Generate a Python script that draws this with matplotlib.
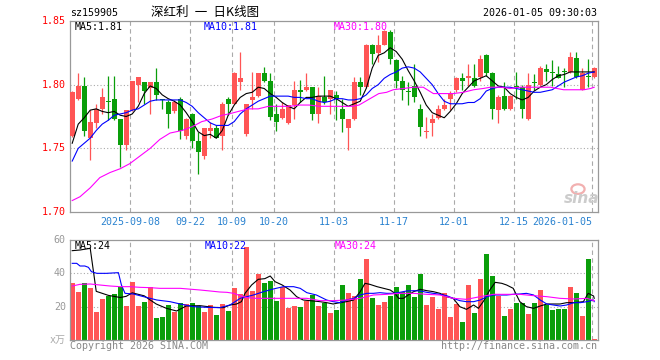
import matplotlib
matplotlib.use("Agg")
import matplotlib.pyplot as plt
from matplotlib.patches import Ellipse
import numpy as np

plt.rcParams['font.family'] = ['DejaVu Sans Mono', 'Noto Sans CJK SC']

# ---- data ----
opens = [1.760, 1.789, 1.799, 1.758, 1.770, 1.781, 1.787, 1.789, 1.773, 1.753,
         1.780, 1.800, 1.802, 1.797, 1.802, 1.789, 1.786, 1.779, 1.789, 1.760,
         1.777, 1.756, 1.744, 1.764, 1.766, 1.760, 1.789, 1.785, 1.802, 1.761,
         1.788, 1.791, 1.809, 1.803, 1.777, 1.774, 1.770, 1.784, 1.796, 1.796,
         1.798, 1.777, 1.790, 1.789, 1.792, 1.781, 1.766, 1.773, 1.802, 1.798,
         1.831, 1.825, 1.831, 1.841, 1.819, 1.803, 1.795, 1.799, 1.781, 1.763,
         1.770, 1.774, 1.781, 1.789, 1.796, 1.805, 1.805, 1.805, 1.806, 1.823,
         1.809, 1.780, 1.791, 1.781, 1.799, 1.798, 1.773, 1.802, 1.800, 1.812,
         1.810, 1.808, 1.811, 1.810, 1.821, 1.796, 1.807, 1.806]
highs = [1.795, 1.809, 1.806, 1.780, 1.785, 1.797, 1.807, 1.807, 1.773, 1.780,
         1.803, 1.806, 1.802, 1.802, 1.813, 1.789, 1.788, 1.788, 1.790, 1.774,
         1.778, 1.763, 1.766, 1.771, 1.768, 1.786, 1.790, 1.810, 1.826, 1.785,
         1.810, 1.809, 1.814, 1.809, 1.785, 1.786, 1.784, 1.803, 1.804, 1.809,
         1.798, 1.798, 1.807, 1.796, 1.795, 1.789, 1.773, 1.806, 1.806, 1.832,
         1.832, 1.839, 1.843, 1.843, 1.820, 1.807, 1.802, 1.816, 1.785, 1.775,
         1.777, 1.784, 1.789, 1.795, 1.806, 1.809, 1.816, 1.816, 1.823, 1.824,
         1.810, 1.792, 1.802, 1.792, 1.810, 1.800, 1.809, 1.808, 1.815, 1.816,
         1.819, 1.815, 1.813, 1.826, 1.826, 1.813, 1.820, 1.814]
lows = [1.759, 1.788, 1.760, 1.741, 1.766, 1.777, 1.772, 1.772, 1.735, 1.749,
        1.779, 1.786, 1.785, 1.777, 1.788, 1.781, 1.766, 1.778, 1.757, 1.757,
        1.750, 1.730, 1.742, 1.758, 1.758, 1.749, 1.776, 1.785, 1.796, 1.760,
        1.781, 1.790, 1.802, 1.772, 1.764, 1.773, 1.769, 1.773, 1.786, 1.795,
        1.772, 1.770, 1.785, 1.777, 1.772, 1.763, 1.749, 1.772, 1.792, 1.797,
        1.816, 1.818, 1.831, 1.816, 1.797, 1.788, 1.784, 1.786, 1.760, 1.758,
        1.760, 1.773, 1.780, 1.780, 1.794, 1.796, 1.799, 1.798, 1.803, 1.807,
        1.773, 1.770, 1.780, 1.780, 1.789, 1.774, 1.772, 1.796, 1.799, 1.803,
        1.799, 1.805, 1.798, 1.809, 1.805, 1.796, 1.798, 1.805]
closes = [1.794, 1.799, 1.764, 1.771, 1.781, 1.790, 1.786, 1.773, 1.753, 1.780,
          1.803, 1.806, 1.795, 1.802, 1.792, 1.788, 1.777, 1.786, 1.764, 1.773,
          1.756, 1.747, 1.766, 1.766, 1.758, 1.785, 1.785, 1.809, 1.805, 1.785,
          1.790, 1.809, 1.803, 1.775, 1.771, 1.781, 1.784, 1.796, 1.794, 1.798,
          1.777, 1.791, 1.786, 1.796, 1.789, 1.773, 1.773, 1.802, 1.798, 1.831,
          1.824, 1.831, 1.842, 1.820, 1.803, 1.796, 1.794, 1.790, 1.767, 1.764,
          1.773, 1.781, 1.784, 1.793, 1.805, 1.803, 1.807, 1.799, 1.820, 1.809,
          1.781, 1.790, 1.781, 1.791, 1.798, 1.781, 1.800, 1.801, 1.813, 1.810,
          1.809, 1.805, 1.810, 1.822, 1.806, 1.809, 1.806, 1.813]
volumes = [34.4, 29.0, 34.4, 31.4, 17.0, 24.6, 26.4, 27.6, 32.0, 20.4,
           35.0, 20.4, 23.0, 31.6, 13.4, 14.0, 21.0, 17.0, 22.0, 21.6,
           22.4, 20.4, 17.0, 21.0, 15.0, 21.6, 17.6, 31.4, 27.4, 56.0,
           29.4, 39.4, 34.0, 35.6, 23.6, 32.0, 19.4, 20.4, 20.0, 23.4,
           27.0, 20.4, 22.0, 16.4, 18.0, 33.0, 28.4, 26.4, 36.6, 48.6,
           25.2, 21.0, 23.0, 26.6, 32.0, 29.0, 33.0, 26.0, 39.6, 21.0,
           26.0, 18.6, 28.0, 14.0, 21.6, 11.0, 33.0, 16.4, 36.6, 51.6,
           38.4, 26.4, 14.4, 18.6, 22.4, 22.4, 15.6, 22.4, 30.0, 21.0,
           18.0, 18.6, 18.6, 32.0, 28.4, 14.4, 48.6, 0.6]

ma5 = [1.754, 1.769, 1.774, 1.780, 1.781, 1.779, 1.778, 1.779, 1.776, 1.775,
       1.777, 1.783, 1.793, 1.799, 1.797, 1.792, 1.789, 1.787, 1.784, 1.778,
       1.771, 1.763, 1.760, 1.761, 1.758, 1.764, 1.776, 1.784, 1.790, 1.793,
       1.794, 1.798, 1.797, 1.793, 1.790, 1.786, 1.783, 1.781, 1.786, 1.790,
       1.790, 1.791, 1.791, 1.791, 1.789, 1.786, 1.783, 1.785, 1.787, 1.797,
       1.813, 1.823, 1.825, 1.829, 1.826, 1.820, 1.811, 1.803, 1.794, 1.784,
       1.778, 1.776, 1.774, 1.779, 1.785, 1.793, 1.798, 1.803, 1.805, 1.807,
       1.803, 1.799, 1.798, 1.793, 1.790, 1.788, 1.790, 1.795, 1.798, 1.800,
       1.804, 1.807, 1.808, 1.810, 1.810, 1.810, 1.810, 1.810]
ma10 = [1.740, 1.750, 1.754, 1.758, 1.764, 1.769, 1.772, 1.776, 1.777, 1.778,
        1.780, 1.781, 1.784, 1.787, 1.788, 1.788, 1.788, 1.788, 1.788, 1.786,
        1.783, 1.778, 1.774, 1.770, 1.768, 1.768, 1.768, 1.771, 1.777, 1.781,
        1.784, 1.787, 1.789, 1.791, 1.791, 1.791, 1.791, 1.790, 1.790, 1.789,
        1.789, 1.787, 1.786, 1.787, 1.789, 1.789, 1.788, 1.788, 1.789, 1.792,
        1.797, 1.800, 1.805, 1.808, 1.810, 1.813, 1.814, 1.813, 1.810, 1.805,
        1.800, 1.793, 1.787, 1.785, 1.785, 1.785, 1.786, 1.786, 1.789, 1.795,
        1.797, 1.798, 1.798, 1.798, 1.797, 1.796, 1.795, 1.794, 1.794, 1.795,
        1.796, 1.799, 1.802, 1.804, 1.806, 1.807, 1.809, 1.810]
ma30_idx = [0, 1.3, 3, 4.6, 6.3, 8, 9.6, 11.3, 13, 14.6, 16.3, 18.3, 20, 21.6,
            23.3, 25, 26.1, 27.7, 29.4, 31, 32.7, 34.6, 36.2, 37.9, 39.5, 41.2,
            42.9, 45.1, 46.7, 47.8, 48.9, 50, 51.1, 52.4, 53.5, 55.2, 56.9,
            58.5, 60.2, 61.9, 63.5, 65.2, 66.9, 68.5, 69.7, 71.4, 73, 74.7,
            76.4, 78, 79.7, 80.8, 81.9, 83, 85.3, 86.4, 87]
ma30 = [1.709, 1.712, 1.719, 1.727, 1.731, 1.734, 1.738, 1.744, 1.750, 1.757,
        1.762, 1.764, 1.767, 1.771, 1.773, 1.776, 1.777, 1.779, 1.781, 1.781,
        1.783, 1.783, 1.783, 1.784, 1.784, 1.783, 1.783, 1.783, 1.783, 1.784,
        1.787, 1.790, 1.793, 1.794, 1.796, 1.797, 1.798, 1.798, 1.793, 1.793,
        1.793, 1.794, 1.796, 1.797, 1.798, 1.798, 1.797, 1.798, 1.798, 1.798,
        1.798, 1.797, 1.796, 1.796, 1.796, 1.797, 1.798]

vma5_idx = [0, 1.3, 3, 4, 6, 8, 9, 10, 12, 13, 14, 15.7, 17.4, 19, 21.3, 23.5,
            25.2, 26.3, 27.4, 28.2, 28.8, 29.9, 31, 32.1, 33, 33.8, 35, 36.3,
            37.4, 38.5, 40.2, 41.3, 42.4, 43.5, 44.6, 45.7, 46.9, 48, 48.8,
            49.6, 50.8, 51.9, 53, 53.8, 54.4, 55.2, 56, 56.9, 58, 59.1, 60.2,
            61.3, 62.4, 63.5, 64.6, 65.7, 66.9, 67.7, 68.5, 69.6, 70.5, 71.6,
            72.4, 73.5, 74.6, 75.7, 76.9, 78, 79.1, 80.2, 81.3, 82.4, 83.6,
            85.2, 86, 86.9, 87]
vma5 = [53.6, 54.0, 55.0, 29.2, 26.8, 25.5, 26.2, 28.3, 26.5, 24.0, 21.6, 19.0,
        17.4, 20.4, 20.6, 19.6, 19.4, 21.0, 21.6, 23.0, 28.0, 33.0, 36.4, 36.8,
        38.4, 35.0, 33.0, 30.0, 26.0, 24.0, 23.4, 23.0, 22.4, 21.6, 22.4, 23.0,
        24.0, 29.0, 34.0, 33.4, 32.0, 31.0, 30.0, 28.0, 25.0, 25.0, 27.0, 29.0,
        30.4, 29.6, 29.0, 28.0, 26.0, 25.0, 20.0, 18.4, 21.0, 19.0, 23.0, 30.0,
        34.6, 34.0, 33.0, 31.0, 23.0, 20.0, 19.0, 20.4, 21.6, 21.6, 21.6, 22.4,
        22.4, 23.0, 28.0, 26.4, 25.0]
vma10_idx = [0, 0.75, 1.3, 2.1, 2.7, 3.2, 4.1, 5.7, 7.7, 8.2, 8.8, 10.2, 11.9,
             14.1, 16.3, 18, 20.2, 22.4, 24.6, 26.3, 28, 29.1, 30.2, 31.9, 33.5,
             35.2, 36.9, 38, 39.1, 40.7, 42.4, 43.5, 44.6, 45.7, 46.9, 48,
             49.1, 50.2, 51.3, 52.4, 53.5, 54.6, 55.7, 56.9, 58, 59.1, 60.2,
             61.3, 62.4, 63.5, 64.6, 65.7, 66.9, 68, 69.1, 70.2, 71.3, 72.4,
             73.5, 74.6, 75.7, 76.9, 78, 79.1, 80.2, 81.3, 82.4, 83.6, 84.7,
             85.8, 86.9, 87]
vma10 = [46.0, 46.0, 44.4, 44.4, 43.6, 41.0, 40.0, 40.0, 40.4, 33.0, 28.0, 27.6,
         26.0, 24.0, 23.0, 21.6, 20.0, 19.6, 19.4, 21.0, 25.0, 26.0, 27.0, 29.0,
         30.6, 32.0, 32.0, 31.0, 28.4, 27.0, 24.0, 23.0, 22.4, 24.0, 25.0, 27.0,
         28.0, 28.0, 28.4, 28.0, 28.0, 28.6, 29.4, 29.6, 29.4, 28.6, 28.0, 27.4,
         26.6, 25.0, 23.6, 23.0, 23.0, 24.0, 26.0, 27.0, 27.0, 27.0, 27.4, 27.6,
         28.0, 27.0, 24.0, 21.6, 21.0, 20.4, 21.0, 22.4, 22.4, 23.0, 24.0, 23.0]
vma30_idx = [0, 1.3, 3, 4.6, 6.3, 8, 9.6, 11.3, 13, 14.6, 16.3, 18, 21.3, 23,
             24.6, 25.8, 26.9, 28, 29.1, 30.7, 32.4, 34.6, 36.9, 39.1, 41.3,
             43.5, 45.7, 48, 50.2, 52.4, 54.6, 56.9, 59.1, 61.3, 63.5, 65.7,
             68, 70.2, 72.4, 74.6, 76.9, 79.1, 81.3, 83.6, 85.8, 87]
vma30 = [32.4, 33.4, 33.6, 33.0, 32.4, 32.0, 32.0, 31.6, 31.4, 31.0, 31.0, 31.0,
         30.0, 29.4, 28.8, 28.6, 28.0, 26.6, 25.4, 25.0, 25.0, 25.0, 25.0, 25.0,
         23.6, 23.6, 24.0, 25.0, 27.0, 27.4, 28.0, 28.0, 27.4, 27.0, 25.0, 24.4,
         26.0, 27.4, 27.4, 27.4, 26.6, 26.0, 25.0, 24.6, 25.0, 23.6]

tick_idx = [10, 20, 27, 34, 44, 54, 64, 74, 87]
tick_lbl = ['2025-09-08', '09-22', '10-09', '10-20', '11-03', '11-17',
            '12-01', '12-15', '2026-01-05']
price_ticks = [1.85, 1.80, 1.75, 1.70]
vol_ticks = [60, 40, 20]

RED = '#ff5555'
GREEN = '#0a9e0a'
GRID = '#aaaaaa'
FS = 7.2

fig = plt.figure(figsize=(6.6, 3.6), dpi=100)
W, H = 660.0, 360.0
ax = fig.add_axes([70 / W, 1 - 212 / H, 527.5 / W, 191 / H])
axv = fig.add_axes([70 / W, 1 - 340 / H, 527.5 / W, 100 / H])

x = np.arange(len(closes))
o = np.array(opens)
c = np.array(closes)
col = np.where(c >= o, RED, GREEN)

for a in (ax, axv):
    a.set_xlim(-0.37, 87.55)
    a.set_xticks([])
    a.set_yticks([])
    for s in a.spines.values():
        s.set_color('#999999')
        s.set_linewidth(0.9)
    for t in tick_idx:
        a.axvline(t - 0.33, color=GRID, lw=0.8, ls=(0, (4, 3)), zorder=0)

# price panel
ax.set_ylim(1.70, 1.85)
for yv in [1.80, 1.75]:
    ax.axhline(yv, color=GRID, lw=0.8, ls=(0, (1, 2)), zorder=0)
ax.vlines(x, lows, highs, colors=col, lw=0.9, zorder=2)
body = np.maximum(np.abs(c - o), 0.0006)
ax.bar(x, body, bottom=np.minimum(o, c), width=0.78, color=col, linewidth=0, zorder=3)
ax.plot(x, ma5, color='black', lw=0.8, zorder=4)
ax.plot(x, ma10, color='#0000ff', lw=0.8, zorder=4)
ax.plot(ma30_idx, ma30, color='#ff00ff', lw=0.8, zorder=4)

yt = ax.get_yaxis_transform()
for p in price_ticks:
    ax.text(-0.008, p, '%.2f' % p, transform=yt, ha='right', va='center',
            color='red', fontsize=FS)
xt = ax.get_xaxis_transform()
for t, lb in zip(tick_idx, tick_lbl):
    ha = 'right' if t == tick_idx[-1] else 'center'
    ax.text(t - 0.33, -0.051, lb, transform=xt, ha=ha, va='center',
            color='#2a82d0', fontsize=FS)

ax.text(0.0095, 0.970, 'MA5:1.81', transform=ax.transAxes, color='black',
        fontsize=FS, va='center', ha='left')
ax.text(0.254, 0.970, 'MA10:1.81', transform=ax.transAxes, color='#0000ff',
        fontsize=FS, va='center', ha='left')
ax.text(0.5005, 0.970, 'MA30:1.80', transform=ax.transAxes, color='#ff00ff',
        fontsize=FS, va='center', ha='left')

# sina watermark
ax.add_patch(Ellipse((0.963, 0.12), 0.025, 0.05, transform=ax.transAxes,
                     fill=False, edgecolor='#f2b0b0', lw=1.6, zorder=1))
ax.text(0.97, 0.07, 'sina', transform=ax.transAxes, ha='center', va='center',
        fontsize=11, fontweight='bold', style='italic', color='#cccccc',
        family='DejaVu Sans', zorder=1)

# volume panel
axv.set_ylim(0, 60)
for yv in [40, 20]:
    axv.axhline(yv, color=GRID, lw=0.8, ls=(0, (1, 2)), zorder=0)
axv.bar(x, volumes, width=0.78, color=col, linewidth=0, zorder=2)
axv.plot(vma5_idx, vma5, color='black', lw=0.8, zorder=4)
axv.plot(vma10_idx, vma10, color='#0000ff', lw=0.8, zorder=4)
axv.plot(vma30_idx, vma30, color='#ff00ff', lw=0.8, zorder=4)

vt = axv.get_yaxis_transform()
for v in vol_ticks:
    axv.text(-0.008, v, str(v), transform=vt, ha='right', va='center',
             color='#999999', fontsize=FS)
axv.text(-0.008, 0, 'x万', transform=vt, ha='right', va='center',
         color='#aaaaaa', fontsize=FS)

axv.text(0.0095, 0.94, 'MA5:24', transform=axv.transAxes, color='black',
         fontsize=FS, va='center', ha='left')
axv.text(0.256, 0.94, 'MA10:22', transform=axv.transAxes, color='#0000ff',
         fontsize=FS, va='center', ha='left')
axv.text(0.5024, 0.94, 'MA30:24', transform=axv.transAxes, color='#ff00ff',
         fontsize=FS, va='center', ha='left')

# header / footer
fig.text(70 / W, 1 - 12.5 / H, 'sz159905', fontsize=FS, va='center', ha='left')
fig.text(151 / W, 1 - 12.5 / H, '深红利\u2002一\u2002日K线图', fontsize=9,
         va='center', ha='left', family=['Noto Sans CJK SC', 'DejaVu Sans'])
fig.text(597 / W, 1 - 12.5 / H, '2026-01-05 09:30:03', fontsize=FS,
         va='center', ha='right')
fig.text(70 / W, 1 - 346 / H, 'Copyright 2026 SINA.COM', fontsize=FS,
         va='center', ha='left', color='#888888')
fig.text(597 / W, 1 - 346 / H, 'http://finance.sina.com.cn', fontsize=FS,
         va='center', ha='right', color='#888888')

fig.savefig('out.png', dpi=100)
